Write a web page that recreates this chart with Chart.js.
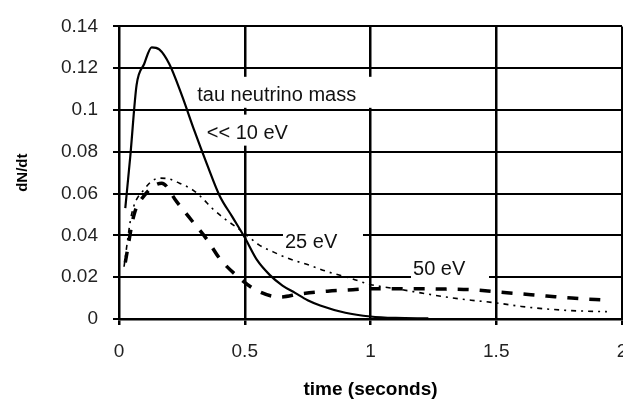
<!DOCTYPE html>
<html>
<head>
<meta charset="utf-8">
<script src="https://cdn.jsdelivr.net/npm/chart.js@4/dist/chart.umd.min.js"></script>
<style>
  html, body { margin:0; padding:0; background:#fff; overflow:hidden; }
  #wrap { width:623px; height:399px; overflow:hidden; }
</style>
</head>
<body>
<div id="wrap"><canvas id="chart" width="660" height="399"></canvas></div>
<script>
// axis ticks
const xTicks = [0, 0.5, 1, 1.5, 2];
const xTickLabels = ["0", "0.5", "1", "1.5", "2"];
const yTicks = [0, 0.02, 0.04, 0.06, 0.08, 0.1, 0.12, 0.14];
const yTickLabels = ["0", "0.02", "0.04", "0.06", "0.08", "0.1", "0.12", "0.14"];

// << 10 eV (solid)
const tLight = [0.025, 0.045, 0.07, 0.1, 0.13, 0.16, 0.2, 0.25, 0.3, 0.35, 0.4, 0.45, 0.5, 0.55, 0.6, 0.65, 0.7, 0.75, 0.8, 0.9, 1.0, 1.1, 1.23];
const vLight = [0.053, 0.078, 0.112, 0.122, 0.130, 0.129, 0.122, 0.107, 0.090, 0.074, 0.059, 0.049, 0.039, 0.028, 0.021, 0.016, 0.0125, 0.009, 0.0065, 0.003, 0.0012, 0.0005, 0.0003];

// 25 eV (thin dotted)
const t25 = [0.02, 0.05, 0.1, 0.16, 0.2, 0.24, 0.29, 0.33, 0.37, 0.42, 0.5, 0.555, 0.615, 0.68, 0.76, 0.83, 0.92, 1.0, 1.1, 1.2, 1.3, 1.4, 1.5, 1.6, 1.7, 1.8, 1.94];
const v25 = [0.025, 0.05, 0.062, 0.0674, 0.067, 0.065, 0.062, 0.058, 0.053, 0.048, 0.041, 0.0356, 0.032, 0.0287, 0.0256, 0.0226, 0.0195, 0.0165, 0.0145, 0.0125, 0.0105, 0.009, 0.0077, 0.006, 0.0048, 0.004, 0.0035];

// 50 eV (thick dashed)
const t50 = [0.025, 0.06, 0.1, 0.17, 0.23, 0.29, 0.35, 0.4, 0.475, 0.55, 0.64, 0.72, 0.83, 0.93, 1.0, 1.1, 1.2, 1.3, 1.4, 1.5, 1.6, 1.7, 1.8, 1.94];
const v50 = [0.027, 0.05, 0.059, 0.065, 0.056, 0.047, 0.038, 0.029, 0.020, 0.0135, 0.0105, 0.012, 0.0133, 0.014, 0.0145, 0.0145, 0.0145, 0.0143, 0.014, 0.013, 0.012, 0.011, 0.010, 0.009];

// text boxes inside the plot (anchor = left end of baseline, in data units)
const noteText = ["tau neutrino mass", "<< 10 eV", "25 eV", "50 eV"];
const noteT    = [0.311, 0.349, 0.66, 1.169];
const noteV    = [0.1044, 0.0863, 0.0341, 0.0212];
const noteBoxW = [180, 86, 80, 78];

const pts = (ts, vs) => ts.map((t, i) => ({ x: t, y: vs[i] }));

const notes = {
  id: "notes",
  afterDatasetsDraw(chart) {
    const { ctx, scales: { x, y } } = chart;
    ctx.save();
    ctx.font = '20px "Liberation Sans", Arial, sans-serif';
    ctx.textBaseline = "alphabetic";
    noteText.forEach((txt, i) => {
      const px = x.getPixelForValue(noteT[i]);
      const py = y.getPixelForValue(noteV[i]);
      ctx.fillStyle = "#fff";
      ctx.fillRect(px - 2, py - 24, noteBoxW[i], 31);
      ctx.fillStyle = "#111";
      ctx.fillText(txt, px, py);
    });
    ctx.restore();
  }
};

const tickFont = { family: '"Liberation Sans", Arial, sans-serif', size: 19 };

new Chart(document.getElementById("chart"), {
  type: "line",
  data: {
    datasets: [
      { label: "<< 10 eV", data: pts(tLight, vLight), borderColor: "#000", borderWidth: 2.2, cubicInterpolationMode: "monotone", pointRadius: 0 },
      { label: "25 eV", data: pts(t25, v25), borderColor: "#000", borderWidth: 1.6, borderDash: [5, 5, 2, 5], cubicInterpolationMode: "monotone", pointRadius: 0 },
      { label: "50 eV", data: pts(t50, v50), borderColor: "#000", borderWidth: 3.5, borderDash: [11, 11], cubicInterpolationMode: "monotone", pointRadius: 0 }
    ]
  },
  options: {
    responsive: false,
    animation: false,
    layout: { padding: { left: 0, top: 15, right: 38, bottom: 0 } },
    plugins: { legend: { display: false }, tooltip: { enabled: false } },
    scales: {
      x: {
        type: "linear", min: 0, max: 2,
        afterBuildTicks: s => { s.ticks = xTicks.map(v => ({ value: v })); },
        afterFit: s => { s.height = 80; },
        ticks: { color: "#222", font: tickFont, padding: 15, maxRotation: 0, callback: (v, i) => xTickLabels[i] },
        grid: { color: "#000", lineWidth: 2.5, tickLength: 6 },
        border: { color: "#000", width: 2.5 },
        title: { display: true, text: "time (seconds)", color: "#000", font: { family: '"Liberation Sans", Arial, sans-serif', size: 19, weight: "bold" }, padding: { top: 0, bottom: -2 } }
      },
      y: {
        type: "linear", min: 0, max: 0.14,
        afterBuildTicks: s => { s.ticks = yTicks.map(v => ({ value: v })); },
        afterFit: s => { s.width = 119; },
        ticks: { color: "#222", font: tickFont, padding: 15, callback: (v, i) => yTickLabels[i] },
        grid: { color: "#000", lineWidth: 2, tickLength: 6 },
        border: { color: "#000", width: 2 },
        title: { display: true, text: "dN/dt", color: "#000", font: { family: '"Liberation Sans", Arial, sans-serif', size: 15, weight: "bold" }, padding: { top: 14, bottom: 0 } }
      }
    }
  },
  plugins: [notes]
});
</script>
</body>
</html>
